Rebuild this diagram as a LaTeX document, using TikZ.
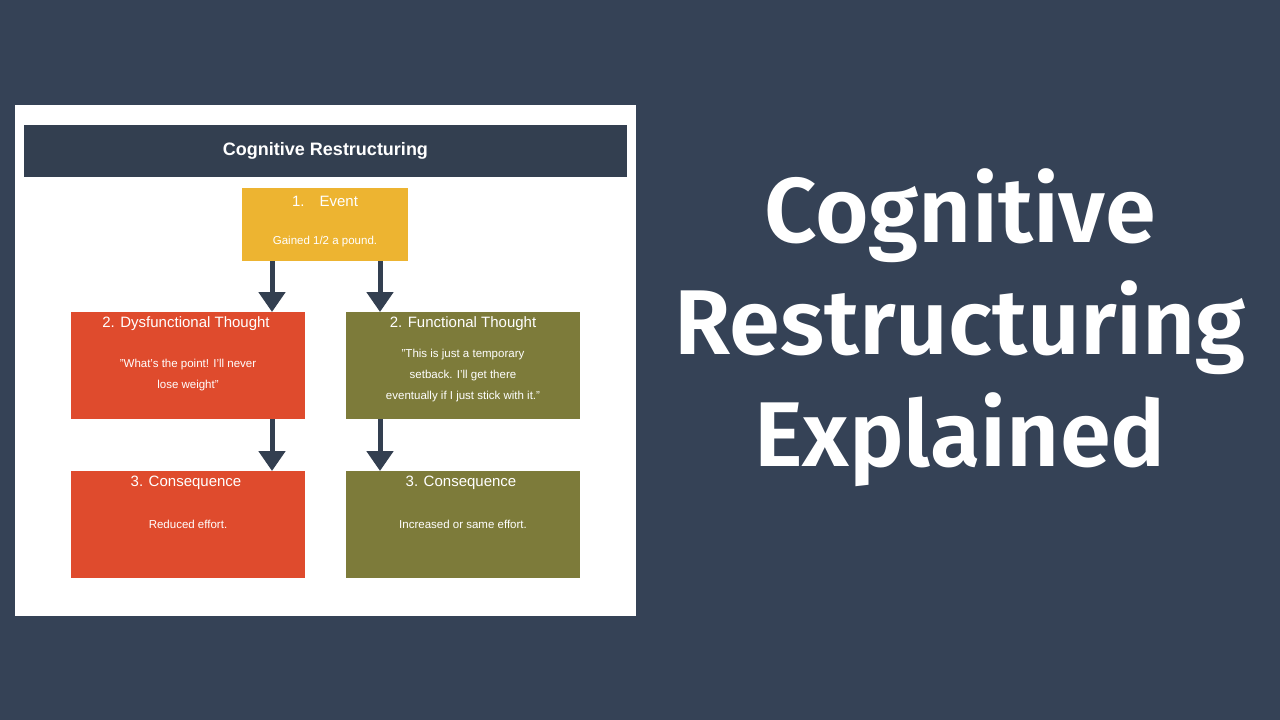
\documentclass[tikz,border=0pt]{standalone}
\usepackage{fontspec}
\setmainfont{Liberation Sans}
\newfontfamily\bigf{Fira Sans SemiBold}
\usetikzlibrary{arrows.meta}
\definecolor{bg}{HTML}{354256}
\definecolor{bar}{HTML}{333F50}
\definecolor{ev}{HTML}{EDB431}
\definecolor{rd}{HTML}{DF4B2D}
\definecolor{ol}{HTML}{7D7B3A}
\begin{document}
\begin{tikzpicture}[x=1pt,y=-1pt,
  box/.style={anchor=north west,inner sep=0pt,text=white},
  arr/.style={draw=bar,line width=5pt,-{Triangle[width=26pt,length=20pt]}}]
\useasboundingbox (0,0) rectangle (1280,720);
\fill[bg] (0,0) rectangle (1280,720);
\fill[white] (15,105) rectangle (636,616);
\fill[bar] (24,125) rectangle (627,177);
\node[text=white,font=\bfseries\fontsize{18}{20}\selectfont] (title) at (325.5,151) {Cognitive Restructuring};
\fill[ev] (242,188) rectangle (408,261);
\node[text=white,font=\fontsize{15}{16}\selectfont] (e1) at (325,201) {1.\quad Event};
\node[text=white,font=\fontsize{11.5}{13}\selectfont] (e2) at (325,242) {Gained 1/2 a pound.};
\fill[rd] (71,312) rectangle (305,419);
\node[text=white,font=\fontsize{15}{16}\selectfont] (d1) at (186,324) {2. Dysfunctional Thought};
\node[text=white,font=\fontsize{11.5}{21}\selectfont,align=center] (d2) at (188,375) {"What's the point! I'll never\\lose weight"};
\fill[ol] (346,312) rectangle (580,419);
\node[text=white,font=\fontsize{15}{16}\selectfont] (f1) at (463,324) {2. Functional Thought};
\node[text=white,font=\fontsize{11.5}{21}\selectfont,align=center] (f2) at (463,376) {"This is just a temporary\\setback. I'll get there\\eventually if I just stick with it."};
\fill[rd] (71,471) rectangle (305,578);
\node[text=white,font=\fontsize{15}{16}\selectfont] (c1) at (186,483) {3. Consequence};
\node[text=white,font=\fontsize{11.5}{13}\selectfont] (c2) at (188,524) {Reduced effort.};
\fill[ol] (346,471) rectangle (580,578);
\node[text=white,font=\fontsize{15}{16}\selectfont] (g1) at (461,483) {3. Consequence};
\node[text=white,font=\fontsize{11.5}{13}\selectfont] (g2) at (463,524) {Increased or same effort.};
\coordinate (a1s) at (272,261); \coordinate (a1e) at (272,312);
\coordinate (a2s) at (380,261); \coordinate (a2e) at (380,312);
\coordinate (a3s) at (272,419); \coordinate (a3e) at (272,471);
\coordinate (a4s) at (380,419); \coordinate (a4e) at (380,471);
\draw[arr] (a1s) -- (a1e);
\draw[arr] (a2s) -- (a2e);
\draw[arr] (a3s) -- (a3e);
\draw[arr] (a4s) -- (a4e);
\node[text=white,font=\bigf\fontsize{92}{112}\selectfont,align=center] (big) at (960,328) {Cognitive\\Restructuring\\Explained};
\end{tikzpicture}
\end{document}
